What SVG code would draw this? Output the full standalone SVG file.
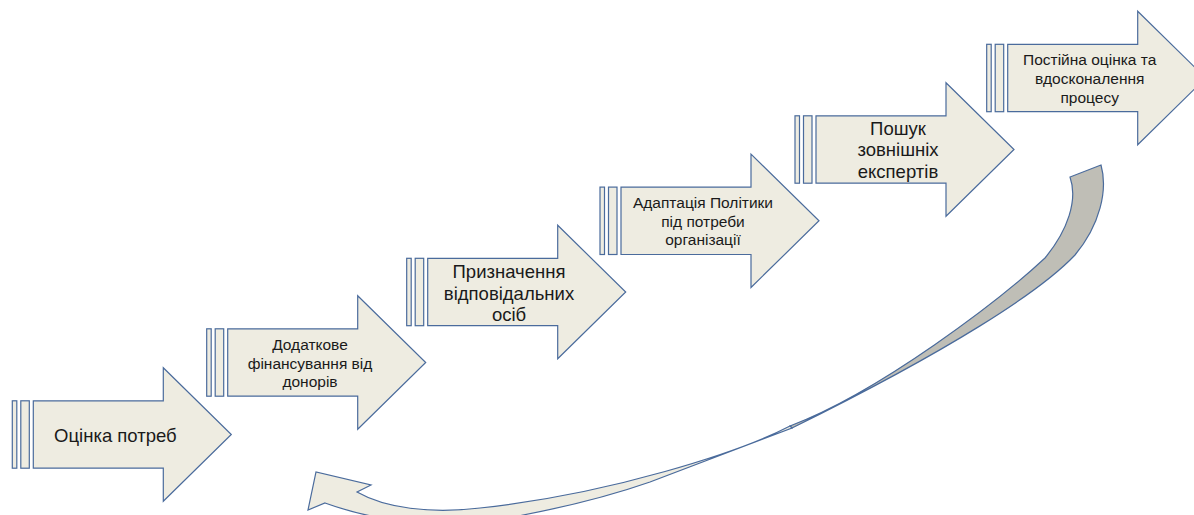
<svg xmlns="http://www.w3.org/2000/svg" xmlns:xlink="http://www.w3.org/1999/xlink" width="1194" height="515" viewBox="0 0 1194 515">
  <style>
    .shp { fill: #EEECE1; stroke: #4A6B9C; stroke-width: 1.2; stroke-linejoin: miter; }
    .back { fill: #BFBEB6; stroke: #4A6B9C; stroke-width: 1.2; }
    .t { font-family: "Liberation Sans", Arial, sans-serif; fill: #1a1a1a; text-anchor: middle; }
    .big { font-size: 18.5px; }
    .small { font-size: 15.5px; }
  </style>
  <defs>
    <g id="striped">
      <rect class="shp" x="0" y="-33.7" width="4.5" height="67.4"/>
      <rect class="shp" x="8.5" y="-33.7" width="8.5" height="67.4"/>
      <polygon class="shp" points="21,-33.7 151,-33.7 151,-66.7 219,0 151,66.7 151,33.7 21,33.7"/>
    </g>
  </defs>
  <rect width="1194" height="515" fill="#ffffff"/>

  <g id="connectors">
    <path class="back" d="M 790 426 C 880 392, 1000 300, 1045 258 C 1068 230, 1078 200, 1070 177 L 1101 165 C 1108 190, 1100 225, 1075 255 C 1040 292, 950 350, 792 428 Z"/>
    <path class="shp" d="M 790 426 C 740 452, 610 494, 480 508 C 430 514, 385 508, 357 492 L 371 485 L 316 472 L 308 510 L 325 503 C 400 530, 480 527, 523 515 C 570 506, 610 496, 650 482 C 690 467, 740 448, 792 428 Z"/>
  </g>

  <g id="node1">
    <use xlink:href="#striped" href="#striped" x="12.3" y="434.5"/>
    <text class="t big" x="115.4" y="441.7">Оцінка потреб</text>
  </g>
  <g id="node2">
    <use xlink:href="#striped" href="#striped" x="206.7" y="362.5"/>
    <text class="t small" x="310" y="350">Додаткове</text>
    <text class="t small" x="310" y="368.6">фінансування від</text>
    <text class="t small" x="310" y="387.2">донорів</text>
  </g>
  <g id="node3">
    <use xlink:href="#striped" href="#striped" x="406.7" y="292"/>
    <text class="t big" x="509" y="278.3">Призначення</text>
    <text class="t big" x="509" y="299.5">відповідальних</text>
    <text class="t big" x="509" y="320.7">осіб</text>
  </g>
  <g id="node4">
    <use xlink:href="#striped" href="#striped" x="600" y="220.8"/>
    <text class="t small" x="703" y="208">Адаптація Політики</text>
    <text class="t small" x="703" y="226.5">під потреби</text>
    <text class="t small" x="703" y="245">організації</text>
  </g>
  <g id="node5">
    <use xlink:href="#striped" href="#striped" x="795" y="149.5"/>
    <text class="t big" x="898" y="135">Пошук</text>
    <text class="t big" x="898" y="156.3">зовнішніх</text>
    <text class="t big" x="898" y="177.6">експертів</text>
  </g>
  <g id="node6">
    <use xlink:href="#striped" href="#striped" x="986.7" y="78"/>
    <text class="t small" x="1089.7" y="65">Постійна оцінка та</text>
    <text class="t small" x="1089.7" y="84">вдосконалення</text>
    <text class="t small" x="1089.7" y="103">процесу</text>
  </g>
</svg>
